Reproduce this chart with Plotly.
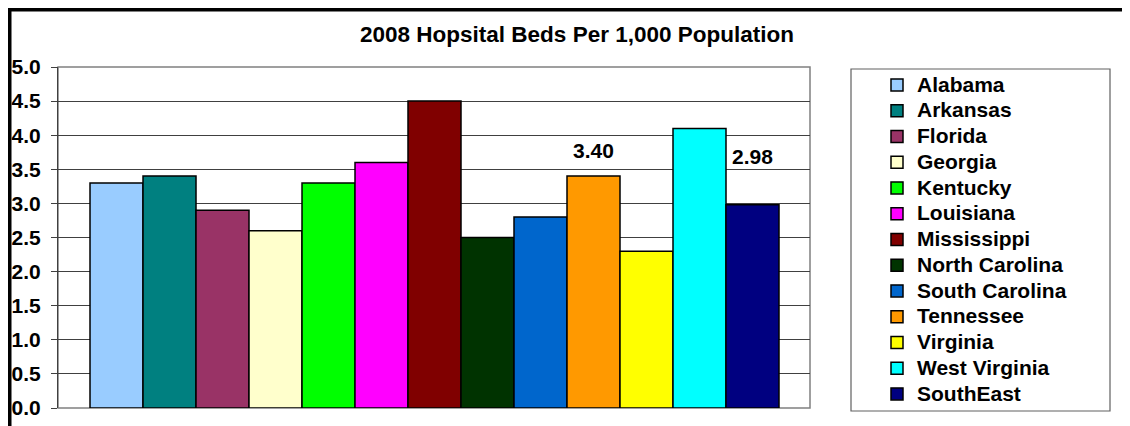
import plotly.graph_objects as go

states = ["Alabama", "Arkansas", "Florida", "Georgia", "Kentucky", "Louisiana",
          "Mississippi", "North Carolina", "South Carolina", "Tennessee",
          "Virginia", "West Virginia", "SouthEast"]
beds = [3.3, 3.4, 2.9, 2.6, 3.3, 3.6, 4.5, 2.5, 2.8, 3.4, 2.3, 4.1, 2.98]
colors = ["#99CCFF", "#008080", "#993366", "#FFFFCC", "#00FF00", "#FF00FF",
          "#800000", "#003300", "#0066CC", "#FF9900", "#FFFF00", "#00FFFF", "#000080"]
labeled = {"Tennessee": 26, "SouthEast": 48}
title = "2008 Hopsital Beds Per 1,000 Population"
y_ticks = [0, 0.5, 1, 1.5, 2, 2.5, 3, 3.5, 4, 4.5, 5]

FONT = "Arial, Liberation Sans, sans-serif"

fig = go.Figure()
for i, (s, v, c) in enumerate(zip(states, beds, colors)):
    fig.add_trace(go.Bar(
        x=[i], y=[v], width=1,
        name=f'<span style="font-size:21px">{s}</span>',
        marker=dict(color=c, line=dict(color="black", width=1.5)),
        hovertemplate=f"{s}: %{{y}}<extra></extra>",
    ))

for i, s in enumerate(states):
    if s in labeled:
        fig.add_annotation(x=i, y=beds[i], text=f"<b>{beds[i]:.2f}</b>",
                           showarrow=False, yanchor="middle", yshift=labeled[s],
                           font=dict(family=FONT, size=21, color="black"))

# page offset of the figure inside the browser page
OFF = 8
W, H = 1130, 426
L = 58 - OFF
T = 67 - OFF
B = H - (408 - OFF)
R = W - (810 - OFF)
pw, ph = W - L - R, H - T - B

def px_x(p):
    return (p - OFF - L) / pw

def px_y(p):
    return (H - B - (p - OFF)) / ph

shapes = [
    # plot area border (gray)
    dict(type="rect", xref="paper", yref="paper", x0=0, x1=1, y0=0, y1=1,
         line=dict(color="#808080", width=1.5), layer="below"),
    # legend box
    dict(type="rect", xref="paper", yref="paper",
         x0=px_x(851), x1=px_x(1110), y0=px_y(411), y1=px_y(69),
         line=dict(color="#606060", width=1.2), fillcolor="rgba(0,0,0,0)"),
    # outer chart frame (thick)
    dict(type="rect", xref="paper", yref="paper",
         x0=px_x(9), x1=px_x(1400), y0=px_y(700), y1=px_y(9),
         line=dict(color="black", width=5), fillcolor="rgba(0,0,0,0)"),
]

fig.update_layout(
    width=W, height=H,
    margin=dict(l=L, r=R, t=T, b=B, autoexpand=False),
    paper_bgcolor="white", plot_bgcolor="white",
    barmode="overlay",
    title=dict(text=f"<b>{title}</b>", x=(577 - OFF) / W, xanchor="center",
               y=1 - (34 - OFF) / H, yanchor="middle", yref="container",
               font=dict(family=FONT, size=22.5, color="black")),
    font=dict(family=FONT, color="black"),
    xaxis=dict(range=[-1.104, 13.085], showticklabels=False, ticks="",
               showgrid=False, zeroline=False, showline=False, automargin=False),
    yaxis=dict(range=[0, 5], tickvals=y_ticks, tickformat=".1f",
               ticks="outside", ticklen=6, tickcolor="#404040", tickwidth=1,
               showgrid=True, gridcolor="#404040", gridwidth=1,
               zeroline=False, showline=True, linecolor="#404040", linewidth=1.2,
               ticklabelstandoff=6, automargin=False,
               tickfont=dict(family=FONT, size=21, color="black", weight="bold")),
    legend=dict(x=px_x(877), xanchor="left", y=px_y(67), yanchor="top",
                bgcolor="rgba(0,0,0,0)", borderwidth=0, tracegroupgap=0,
                maxheight=420,
                font=dict(family=FONT, size=17.5, color="black", weight="bold")),
    shapes=shapes,
    showlegend=True,
)

fig.write_html("out.html")
